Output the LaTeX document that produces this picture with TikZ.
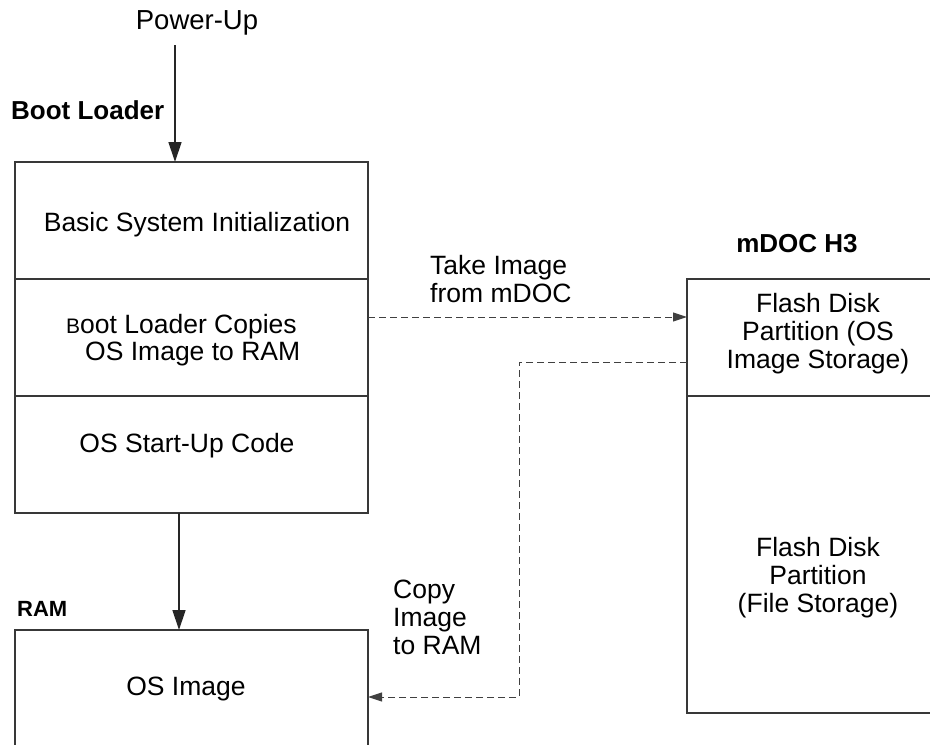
\documentclass[tikz,border=0pt]{standalone}
\usepackage{fontspec}
\setmainfont{Liberation Sans}
\usetikzlibrary{arrows.meta}
\begin{document}
\begin{tikzpicture}[x=1pt,y=-1pt,
  box/.style={draw=black!78, line width=1.2pt, inner sep=0pt, outer sep=0pt},
  txt/.style={inner sep=0pt, font=\fontsize{26.5}{28}\selectfont, align=center},
  lbl/.style={inner sep=0pt, font=\fontsize{26}{28}\selectfont\bfseries},
  solidarrow/.style={draw=black!85, line width=1.3pt, -{Triangle[length=20pt,width=13pt]}},
  dasharrow/.style={draw=black!75, line width=1pt, dash pattern=on 7pt off 4pt, -{Triangle[length=14pt,width=9pt]}}]
\useasboundingbox (0,0) rectangle (930,745);
\clip (0,0) rectangle (930,745);
% boxes
\node[box, minimum width=353pt, minimum height=117pt, anchor=north west] (bsi) at (15,162) {};
\node[box, minimum width=353pt, minimum height=117pt, anchor=north west] (blc) at (15,279) {};
\node[box, minimum width=353pt, minimum height=117pt, anchor=north west] (osc) at (15,396) {};
\node[box, minimum width=353pt, minimum height=150pt, anchor=north west] (ram) at (15,630) {};
\node[box, minimum width=270pt, minimum height=117pt, anchor=north west] (fd1) at (687,279) {};
\node[box, minimum width=270pt, minimum height=317pt, anchor=north west] (fd2) at (687,396) {};
% texts
\node[txt, font=\fontsize{27.5}{28}\selectfont] (pu) at (197,23) {Power-Up};
\node[lbl, anchor=west] (bl) at (11,110) {Boot Loader};
\node[txt] (t1) at (197,225) {Basic System Initialization};
\node[txt, align=left, anchor=west] (t2) at (66,340) {{\fontsize{21}{27}\selectfont B}oot Loader Copies\\[-1pt]\hspace*{19pt}OS Image to RAM};
\node[txt] (t3) at (187,446) {OS Start-Up Code};
\node[lbl, anchor=west, font=\fontsize{22}{28}\selectfont\bfseries] (rl) at (17,609) {RAM};
\node[txt] (t4) at (186,689) {OS Image};
\node[txt, align=left, anchor=west] (t5) at (393,617) {Copy\\Image\\to RAM};
\node[txt, align=left, anchor=west] (t6) at (430,279) {Take Image\\from mDOC};
\node[lbl] (mh) at (797,244) {mDOC H3};
\node[txt] (t7) at (818,334) {Flash Disk\\Partition (OS\\Image Storage)};
\node[txt] (t8) at (818,578) {Flash Disk\\Partition\\(File Storage)};
% connectors
\coordinate (a1) at (175,45);
\draw[solidarrow] (a1) -- (a1 |- bsi.north);
\coordinate (a2) at (179,513);
\draw[solidarrow] (a2) -- (a2 |- ram.north);
\coordinate (d1) at (368,317);
\draw[dasharrow] (d1) -- (d1 -| fd1.west);
\coordinate (d2) at (687,362);
\coordinate (d3) at (519,362);
\coordinate (d4) at (519,697);
\draw[dasharrow] (d2) -- (d3) -- (d4) -- (d4 -| ram.east);
\end{tikzpicture}
\end{document}
